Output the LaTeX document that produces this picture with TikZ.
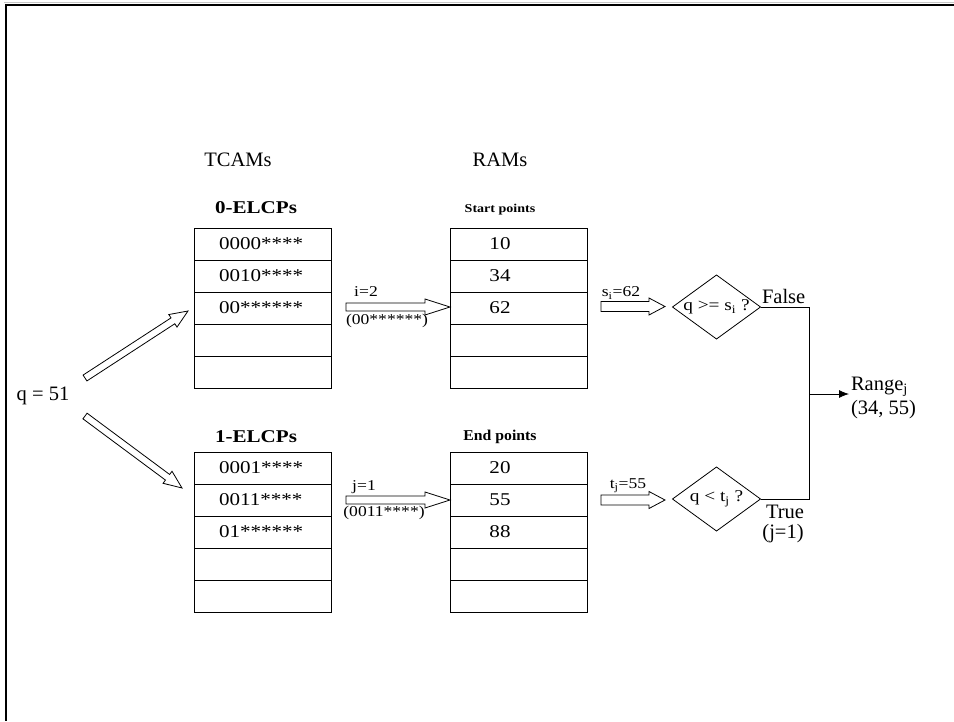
\documentclass[tikz,border=0pt]{standalone}
\usepackage{fontspec}
\setmainfont{Liberation Serif}
\usetikzlibrary{calc,shapes.geometric,arrows.meta}
\newcommand\blockarr[5]{%
  \path ($(#2)!#3!(#1)$) coordinate (bah);
  \draw[blockline] ($(#1)!#4!90:(#2)$) -- ($(bah)!#4!90:(#2)$) -- ($(bah)!#5!90:(#2)$) -- (#2)
    -- ($(bah)!#5!-90:(#2)$) -- ($(bah)!#4!-90:(#2)$) -- ($(#1)!#4!-90:(#2)$) -- cycle;}
\begin{document}
\begin{tikzpicture}[x=1pt,y=-1pt,
  every node/.style={inner sep=0pt, outer sep=0pt},
  tbl/.style={draw, line width=0.8pt, minimum width=137pt, minimum height=160pt},
  cell/.style={font=\fontsize{18}{20}\selectfont, anchor=west, xscale=1.17},
  val/.style={font=\fontsize{18}{20}\selectfont, xscale=1.17},
  big/.style={font=\fontsize{20.5}{24}\selectfont},
  ttl/.style={font=\bfseries\fontsize{18}{21}\selectfont, xscale=1.17},
  sttl/.style={font=\bfseries\fontsize{12}{14}\selectfont, xscale=1.17},
  mttl/.style={font=\bfseries\fontsize{15}{17}\selectfont, xscale=1.05},
  lbl/.style={font=\fontsize{15}{17}\selectfont, xscale=1.17},
  dtxt/.style={font=\fontsize{16.5}{18}\selectfont, xscale=1.17},
  blockline/.style={line width=0.8pt, line join=miter},
  conn/.style={line width=0.8pt},
  dia/.style={draw, diamond, line width=0.8pt, minimum width=88pt, minimum height=64pt, inner sep=0pt}]
\useasboundingbox (0,0) rectangle (954,721);
% frame
\draw[gray!45, line width=1pt] (4,2.5) -- (954,2.5);
\draw[line width=2pt] (5,5) -- (954,5);
\draw[line width=2pt] (6,4) -- (6,721);

% headers
\node[big] (htcam) at (238,160) {TCAMs};
\node[big] (hram) at (500,160) {RAMs};
\node[ttl] (t0) at (256,208) {0-ELCPs};
\node[sttl] (r0t) at (500,210) {Start points};
\node[ttl] (t1) at (256,437) {1-ELCPs};
\node[mttl] (r1t) at (500,437) {End points};

% tables
\node[tbl] (tcam0) at (262.5,308) {};
\node[tbl] (ram0) at (518.5,308) {};
\node[tbl] (tcam1) at (262.5,532) {};
\node[tbl] (ram1) at (518.5,532) {};
\foreach \t in {tcam0,ram0,tcam1,ram1}{
  \foreach \k in {1,2,3,4}{
    \draw[conn] (\t.north west) ++(0,32*\k) -- ++(137,0);
  }
}
% cells
\node[cell] (c01) at (219,244) {0000****};
\node[cell] (c02) at (219,276) {0010****};
\node[cell] (c03) at (219,308) {00******};
\node[cell] (c11) at (219,468) {0001****};
\node[cell] (c12) at (219,500) {0011****};
\node[cell] (c13) at (219,532) {01******};
\node[val] (v01) at (500,244) {10};
\node[val] (v02) at (500,276) {34};
\node[val] (v03) at (500,308) {62};
\node[val] (v11) at (500,468) {20};
\node[val] (v12) at (500,500) {55};
\node[val] (v13) at (500,532) {88};

% query
\node[big] (q) at (43,396) {q = 51};
\coordinate (qa) at (85,378); \coordinate (qat) at (188,311);
\blockarr{qa}{qat}{18pt}{3.5pt}{7.5pt}
\coordinate (qb) at (85,416); \coordinate (qbt) at (182,488);
\blockarr{qb}{qbt}{18pt}{3.5pt}{7.5pt}

% match arrows
\coordinate (ma) at (346,307); \coordinate (mat) at (450,307);
\blockarr{ma}{mat}{25pt}{4pt}{8pt}
\coordinate (mb) at (346,500); \coordinate (mbt) at (450,500);
\blockarr{mb}{mbt}{25pt}{4pt}{8pt}
\node[lbl] (li) at (366,292) {i=2};
\node[lbl] (lic) at (387,321) {(00******)};
\node[lbl] (lj) at (364,487) {j=1};
\node[lbl] (ljc) at (384,513) {(0011****)};

% value arrows
\coordinate (sa) at (601,306.5); \coordinate (sat) at (665,306.5);
\blockarr{sa}{sat}{16pt}{5pt}{8.5pt}
\coordinate (sb) at (601,500); \coordinate (sbt) at (665,500);
\blockarr{sb}{sbt}{16pt}{5pt}{8.5pt}
\node[lbl] (ls) at (621,293) {s\textsubscript{i}=62};
\node[lbl] (lt) at (628,486) {t\textsubscript{j}=55};

% diamonds
\node[dia] (d1) at (716.5,307) {};
\node[dtxt] (d1t) at (716.5,307) {q >= s\textsubscript{i} ?};
\node[dia] (d2) at (716.5,499) {};
\node[dtxt] (d2t) at (716.5,499) {q < t\textsubscript{j} ?};

% outputs
\node[big, anchor=base west] (fl) at (762,303) {False};
\node[big] (tr) at (785,512) {True};
\node[big] (tj) at (783,534) {(j=1)};
\coordinate (jn) at (809,394);
\coordinate (rg) at (849,394);
\draw[conn] (d1.east) -| (jn);
\draw[conn] (d2.east) -| (jn);
\draw[conn, -{Latex[length=10pt,width=8pt]}] (jn) -- (rg);
\node[big, anchor=west, align=left] (rng) at (851,398) {Range\textsubscript{j}\\(34, 55)};
\end{tikzpicture}
\end{document}
